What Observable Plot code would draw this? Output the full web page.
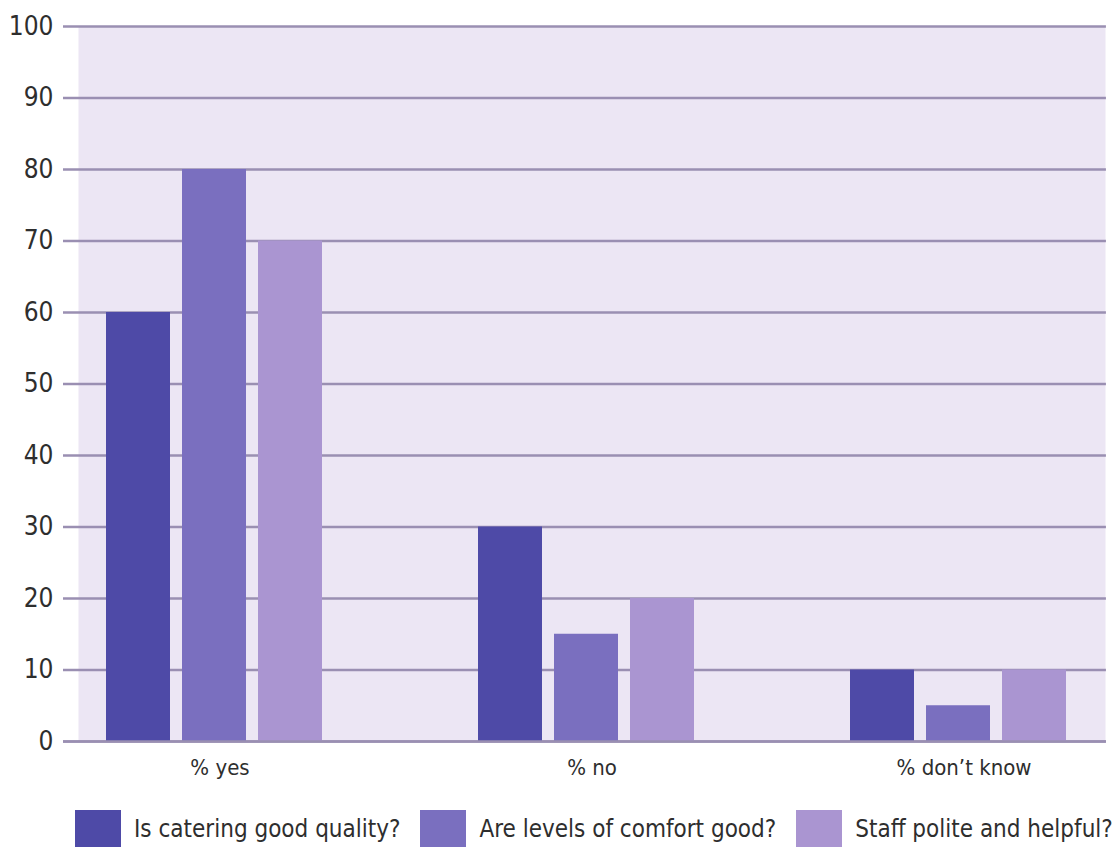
<!DOCTYPE html>
<html>
<head>
<meta charset="utf-8">
<script src="https://cdn.jsdelivr.net/npm/d3@7"></script>
<script src="https://cdn.jsdelivr.net/npm/@observablehq/plot@0.6"></script>
<style>
  html, body { margin: 0; padding: 0; background: #ffffff; }
  body { width: 1115px; height: 853px; overflow: hidden; font-family: "DejaVu Sans Condensed", "DejaVu Sans", sans-serif; font-stretch: condensed; }
  #legend { display: flex; align-items: center; margin-top: 15px; padding-left: 75px; color: #2e2e2e; font-size: 24px; white-space: nowrap; }
  .item { display: flex; align-items: center; margin-right: 20px; }
  .sw { width: 46px; height: 37px; margin-right: 13px; flex: none; }
</style>
</head>
<body>
<div id="chart"></div>
<div id="legend"></div>
<script>
const categories = ["% yes", "% no", "% don’t know"];
const series = ["Is catering good quality?", "Are levels of comfort good?", "Staff polite and helpful?"];
const cateringValues = [60, 30, 10];
const comfortValues = [80, 15, 5];
const staffValues = [70, 20, 10];
const yTicks = [0, 10, 20, 30, 40, 50, 60, 70, 80, 90, 100];
const colors = ["#4e4aa7", "#7a6fbf", "#aa95d1"];

const seriesValues = [cateringValues, comfortValues, staffValues];
const rows = series.flatMap((s, i) => categories.map((c, j) => ({series: s, category: c, value: seriesValues[i][j]})));

const gridColor = "#9a8fb2";
const bg = "#ece6f4";
const textColor = "#2e2e2e";

const W = 1115, H = 795, mL = 77, mR = 10, mT = 26, mB = 54;
const fxPadIn = 0.24, fxPadOut = 0;
const frameW = W - mL - mR;
const fxStep = frameW / (categories.length - fxPadIn + 2 * fxPadOut);
const fxBand = fxStep * (1 - fxPadIn);
const tickLen = 15;
const gridOpts = {
  facetAnchor: "left",
  stroke: gridColor, strokeOpacity: 1, strokeWidth: 2.5,
  insetLeft: -tickLen,
  insetRight: -(frameW - fxBand - fxPadOut * fxStep)
};

const chart = Plot.plot({
  width: W,
  height: H,
  marginLeft: mL,
  marginRight: mR,
  marginTop: mT,
  marginBottom: mB,
  style: {fontFamily: '"DejaVu Sans Condensed", "DejaVu Sans", sans-serif', background: "#ffffff"},
  fx: {domain: categories, paddingInner: fxPadIn, paddingOuter: fxPadOut, label: null},
  x: {domain: series, axis: null, paddingInner: 0.163, paddingOuter: 0.431, align: 0.41},
  y: {domain: [0, 100]},
  color: {domain: series, range: colors},
  marks: [
    Plot.frame({fill: bg, stroke: "none", facet: "super"}),
    Plot.gridY(yTicks, gridOpts),
    Plot.barY(rows, {fx: "category", x: "series", y: "value", fill: "series"}),
    Plot.gridY([yTicks[0]], gridOpts),
    Plot.axisY({ticks: yTicks, tickSize: 0, tickPadding: tickLen + 10, fill: textColor, fontSize: 26, label: null}),
    Plot.axisFx({anchor: "bottom", tickSize: 0, tickPadding: 18, fontSize: 22, fill: textColor, label: null})
  ]
});
document.getElementById("chart").appendChild(chart);

const legend = document.getElementById("legend");
series.forEach((s, i) => {
  const item = document.createElement("div");
  item.className = "item";
  const sw = document.createElement("div");
  sw.className = "sw";
  sw.style.background = colors[i];
  const t = document.createElement("span");
  t.textContent = s;
  item.appendChild(sw);
  item.appendChild(t);
  legend.appendChild(item);
});
</script>
</body>
</html>
